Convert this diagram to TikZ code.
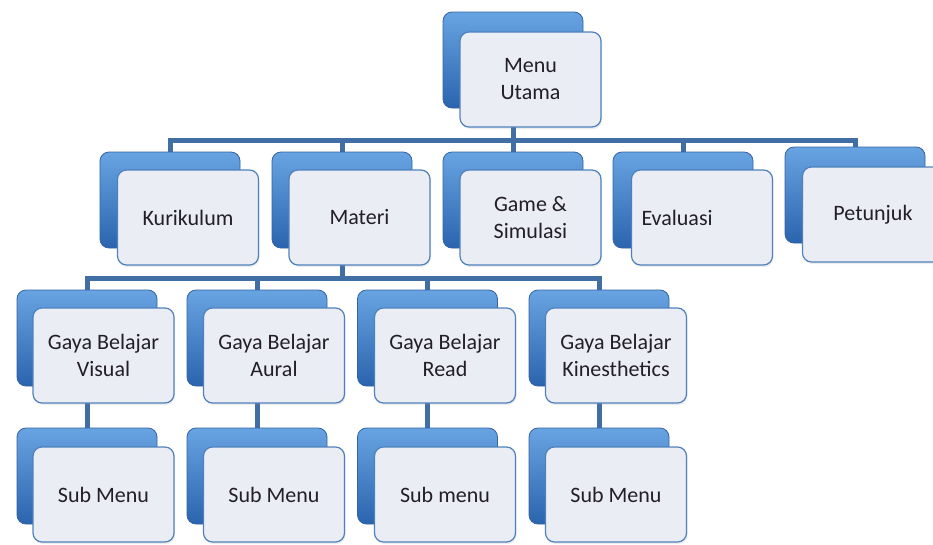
\documentclass[tikz,border=0pt]{standalone}
\usepackage{fontspec}
\setmainfont{Carlito}
\usetikzlibrary{backgrounds,shadows}

\definecolor{backtop}{RGB}{104,164,226}
\definecolor{backbottom}{RGB}{42,100,174}
\definecolor{backedge}{RGB}{52,98,162}
\definecolor{frontfill}{RGB}{234,237,243}
\definecolor{frontedge}{RGB}{79,129,189}
\definecolor{connblue}{RGB}{66,110,166}
\definecolor{textdark}{RGB}{35,30,40}

\begin{document}
\begin{tikzpicture}[x=1pt,y=-1pt,
    backbox/.style={draw=backedge, line width=0.8pt, rounded corners=9pt,
      top color=backtop, bottom color=backbottom,
      minimum width=140pt, minimum height=96pt},
    frontbox/.style={draw=frontedge, line width=1.2pt, rounded corners=9pt,
      fill=frontfill, text=textdark,
      drop shadow={opacity=0.15, shadow xshift=1pt, shadow yshift=-2pt},
      minimum width=141pt, minimum height=95pt, align=center,
      font=\fontsize{22}{27}\selectfont},
    conn/.style={draw=connblue, line width=5pt}]
    \useasboundingbox (0,0) rectangle (933,544);

    % Top level
    \node[backbox] (utamaB) at (513,60) {};
    \node[frontbox] (utama) at (530.5,79.5) {Menu\\Utama};

    % Second level
    \node[backbox] (kurikulumB) at (170,200) {};
    \node[frontbox] (kurikulum) at (188,217.5) {Kurikulum};
    \node[backbox] (materiB) at (342,200) {};
    \node[frontbox] (materi) at (359.5,217.5) {Materi};
    \node[backbox] (gameB) at (513,200) {};
    \node[frontbox] (game) at (530.5,217.5) {Game \&\\Simulasi};
    \node[backbox] (evaluasiB) at (683,200) {};
    \node[frontbox, align=left, text width=121pt] (evaluasi) at (702,217.5) {Evaluasi};
    \node[backbox] (petunjukB) at (855,195) {};
    \node[frontbox] (petunjuk) at (873,214.5) {Petunjuk};

    % Third level
    \node[backbox] (visualB) at (87,338) {};
    \node[frontbox] (visual) at (103.5,355.5) {Gaya Belajar\\Visual};
    \node[backbox] (auralB) at (257,338) {};
    \node[frontbox] (aural) at (274,355.5) {Gaya Belajar\\Aural};
    \node[backbox] (readB) at (427.5,338) {};
    \node[frontbox] (read) at (445,355.5) {Gaya Belajar\\Read};
    \node[backbox] (kinesB) at (599,338) {};
    \node[frontbox] (kines) at (616,355.5) {Gaya Belajar\\Kinesthetics};

    % Fourth level
    \node[backbox] (subVisualB) at (87,476) {};
    \node[frontbox] (subVisual) at (103.5,494.5) {Sub Menu};
    \node[backbox] (subAuralB) at (257,476) {};
    \node[frontbox] (subAural) at (274,494.5) {Sub Menu};
    \node[backbox] (subReadB) at (427.5,476) {};
    \node[frontbox] (subRead) at (445,494.5) {Sub menu};
    \node[backbox] (subKinesB) at (599,476) {};
    \node[frontbox] (subKines) at (616,494.5) {Sub Menu};

    % Connect boxes
    \begin{scope}[on background layer]
      \coordinate (barTop) at (0,140);
      \coordinate (barMid) at (0,278);
      \draw[conn] (utamaB) -- (utamaB |- barTop) -| (kurikulumB);
      \draw[conn] (utamaB) -- (utamaB |- barTop) -| (materiB);
      \draw[conn] (utamaB) -- (gameB);
      \draw[conn] (utamaB) -- (utamaB |- barTop) -| (evaluasiB);
      \draw[conn] (utamaB) -- (utamaB |- barTop) -| (petunjukB);
      \draw[conn] (materiB) -- (materiB |- barMid) -| (visualB);
      \draw[conn] (materiB) -- (materiB |- barMid) -| (auralB);
      \draw[conn] (materiB) -- (materiB |- barMid) -| (readB);
      \draw[conn] (materiB) -- (materiB |- barMid) -| (kinesB);
      \draw[conn] (visualB) -- (subVisualB);
      \draw[conn] (auralB) -- (subAuralB);
      \draw[conn] (readB) -- (subReadB);
      \draw[conn] (kinesB) -- (subKinesB);
    \end{scope}
\end{tikzpicture}
\end{document}
